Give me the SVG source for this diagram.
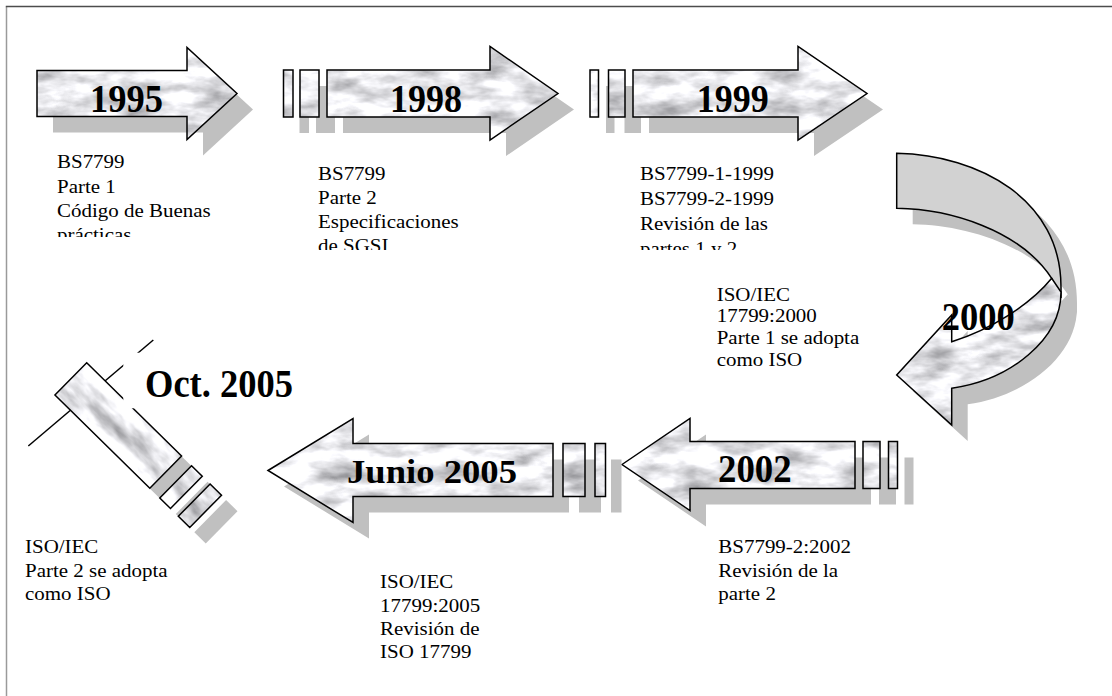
<svg xmlns="http://www.w3.org/2000/svg" width="1112" height="696" viewBox="0 0 1112 696">
  <style>
    .shadow { fill: #c0c0c0; }
    .marble { fill: #ffffff; filter: url(#marble); }
    .edge { fill: none; stroke: #000; stroke-width: 1.5; }
    .back { fill: #d2d2d2; }
    .year { font-family: "Liberation Serif", "Times New Roman", serif; font-weight: bold; fill: #000; }
    .note { font-family: "Liberation Serif", "Times New Roman", serif; font-size: 19.5px; fill: #000; }
    .frame-top { fill: none; stroke: #4d4d4d; stroke-width: 1.5; }
    .frame-left { fill: none; stroke: #9a9a9a; stroke-width: 1.5; }
  </style>
  <defs>
    <!-- light grey marble texture, clipped to the shape it is applied to -->
    <filter id="marble" x="0" y="0" width="1" height="1" color-interpolation-filters="sRGB">
      <feTurbulence type="fractalNoise" baseFrequency="0.025 0.06" numOctaves="4" seed="5" result="noise"/>
      <feColorMatrix in="noise" type="matrix" values="0.75 0 0 0 0.535  0.75 0 0 0 0.535  0.75 0 0 0 0.55  0 0 0 0 1" result="grey"/>
      <feComposite in="grey" in2="SourceGraphic" operator="in"/>
    </filter>

    <!-- block arrows (tail bars included as sub-paths) -->
    <path id="a1995" d="M37,70.5 H187 V47.5 L237,93.5 L187,139.5 V116.5 H37 Z"/>
    <path id="a1998" d="M283.5,70 h9.5 v47 h-9.5 Z M300,70 h19 v47 h-19 Z M327,70 H490 V46.5 L558,93.5 L490,140 V117 H327 Z"/>
    <path id="a1999" d="M590,70 h8.5 v47 h-8.5 Z M608.5,70 h16.5 v47 h-16.5 Z M633,70 H798 V46.5 L867,93.5 L798,140 V117 H633 Z"/>
    <path id="a2002" d="M622,464.5 L690,418.5 V441.5 H855 V488.5 H690 V510.5 Z M863,441.5 h17 v47 h-17 Z M888.5,441.5 h9 v47 h-9 Z"/>
    <path id="aJun" d="M268,470.5 L353,418.5 V443.5 H553 V496.5 H353 V522.5 Z M563,443.5 h22 v53 h-22 Z M595,443.5 h10.5 v53 h-10.5 Z"/>
    <!-- tilted tail, drawn in its own rotated frame -->
    <path id="aOct" d="M0,0 H133 V45.3 H0 Z M147,0 H162 V45.3 H147 Z M173,0 H189 V45.3 H173 Z"/>

    <!-- curved arrow: reverse side (upper) and face (lower, with head) -->
    <path id="cBack" d="M896.7,153.3 C980,155 1061,200 1061,287 L1061,298 L1051.7,278.3 C1020,230 950,209 896.7,208.3 Z"/>
    <path id="cFront" d="M1051.7,278.3 C1030,305 990,330 951.7,341.7 L951.7,315 L896.7,375 L951.7,425 L951.7,388.3 C1010,380 1061,340 1061,292 Z"/>

    <clipPath id="clip1"><rect x="40" y="140" width="230" height="97"/></clipPath>
    <clipPath id="clip2"><rect x="300" y="150" width="230" height="100"/></clipPath>
    <clipPath id="clip3"><rect x="620" y="150" width="230" height="100"/></clipPath>
  </defs>

  <!-- page frame -->
  <path class="frame-left" d="M6.5,696 V6.5"/>
  <path class="frame-top" d="M5.8,6.5 H1112"/>

  <g id="n1995">
    <use href="#a1995" class="shadow" transform="translate(16 16)"/>
    <use href="#a1995" class="marble"/>
    <use href="#a1995" class="edge"/>
    <text class="year" x="90" y="112" font-size="41" textLength="73" lengthAdjust="spacingAndGlyphs">1995</text>
    <g clip-path="url(#clip1)">
      <text class="note" transform="translate(57 168.3) scale(1.075 1)">
        <tspan x="0" y="0">BS7799</tspan>
        <tspan x="0" y="24.3">Parte 1</tspan>
        <tspan x="0" y="48.6">Código de Buenas</tspan>
        <tspan x="0" y="72.9">prácticas</tspan>
      </text>
    </g>
  </g>

  <g id="n1998">
    <use href="#a1998" class="shadow" transform="translate(16 16)"/>
    <use href="#a1998" class="marble"/>
    <use href="#a1998" class="edge"/>
    <text class="year" x="390" y="112" font-size="41" textLength="72" lengthAdjust="spacingAndGlyphs">1998</text>
    <g clip-path="url(#clip2)">
      <text class="note" transform="translate(318 180) scale(1.075 1)">
        <tspan x="0" y="0">BS7799</tspan>
        <tspan x="0" y="24">Parte 2</tspan>
        <tspan x="0" y="48">Especificaciones</tspan>
        <tspan x="0" y="72">de SGSI</tspan>
      </text>
    </g>
  </g>

  <g id="n1999">
    <use href="#a1999" class="shadow" transform="translate(16 16)"/>
    <use href="#a1999" class="marble"/>
    <use href="#a1999" class="edge"/>
    <text class="year" x="696.7" y="112" font-size="41" textLength="72" lengthAdjust="spacingAndGlyphs">1999</text>
    <g clip-path="url(#clip3)">
      <text class="note" transform="translate(640 180) scale(1.075 1)">
        <tspan x="0" y="0">BS7799-1-1999</tspan>
        <tspan x="0" y="25">BS7799-2-1999</tspan>
        <tspan x="0" y="50">Revisión de las</tspan>
        <tspan x="0" y="75">partes 1 y 2</tspan>
      </text>
    </g>
  </g>

  <g id="n2000">
    <g class="shadow" transform="translate(16 16)">
      <use href="#cBack"/>
      <use href="#cFront"/>
    </g>
    <use href="#cBack" class="back"/>
    <use href="#cBack" class="edge"/>
    <use href="#cFront" class="marble"/>
    <use href="#cFront" class="edge"/>
    <text class="year" x="941.7" y="330" font-size="40" textLength="73" lengthAdjust="spacingAndGlyphs">2000</text>
    <text class="note" transform="translate(716.7 300.5) scale(1.075 1)">
      <tspan x="0" y="0">ISO/IEC</tspan>
      <tspan x="0" y="22">17799:2000</tspan>
      <tspan x="0" y="44">Parte 1 se adopta</tspan>
      <tspan x="0" y="66">como ISO</tspan>
    </text>
  </g>

  <g id="n2002">
    <use href="#a2002" class="shadow" transform="translate(16 16)"/>
    <use href="#a2002" class="marble"/>
    <use href="#a2002" class="edge"/>
    <text class="year" x="718" y="481.7" font-size="40" textLength="73.7" lengthAdjust="spacingAndGlyphs">2002</text>
    <text class="note" transform="translate(718.3 553.3) scale(1.075 1)">
      <tspan x="0" y="0">BS7799-2:2002</tspan>
      <tspan x="0" y="23.4">Revisión de la</tspan>
      <tspan x="0" y="46.8">parte 2</tspan>
    </text>
  </g>

  <g id="nJun2005">
    <use href="#aJun" class="shadow" transform="translate(16 16)"/>
    <use href="#aJun" class="marble"/>
    <use href="#aJun" class="edge"/>
    <text class="year" x="347" y="483.3" font-size="33" textLength="170" lengthAdjust="spacingAndGlyphs">Junio 2005</text>
    <text class="note" transform="translate(380 588.3) scale(1.075 1)">
      <tspan x="0" y="0">ISO/IEC</tspan>
      <tspan x="0" y="23.3">17799:2005</tspan>
      <tspan x="0" y="46.6">Revisión de</tspan>
      <tspan x="0" y="69.9">ISO 17799</tspan>
    </text>
  </g>

  <g id="nOct2005">
    <!-- head base line, partly hidden by the tail and the label box -->
    <line x1="28.3" y1="446" x2="153.3" y2="340" stroke="#000" stroke-width="1.5"/>
    <use href="#aOct" class="shadow" transform="translate(102.7 378.7) rotate(44.5)"/>
    <use href="#aOct" class="marble" transform="translate(86.7 362.7) rotate(44.5)"/>
    <use href="#aOct" class="edge" transform="translate(86.7 362.7) rotate(44.5)"/>
    <rect x="123.3" y="352.7" width="180" height="55.6" fill="#fff"/>
    <text class="year" x="145" y="396.7" font-size="39.5" textLength="148" lengthAdjust="spacingAndGlyphs">Oct. 2005</text>
    <text class="note" transform="translate(25 553.3) scale(1.075 1)">
      <tspan x="0" y="0">ISO/IEC</tspan>
      <tspan x="0" y="23.4">Parte 2 se adopta</tspan>
      <tspan x="0" y="46.8">como ISO</tspan>
    </text>
  </g>
</svg>
